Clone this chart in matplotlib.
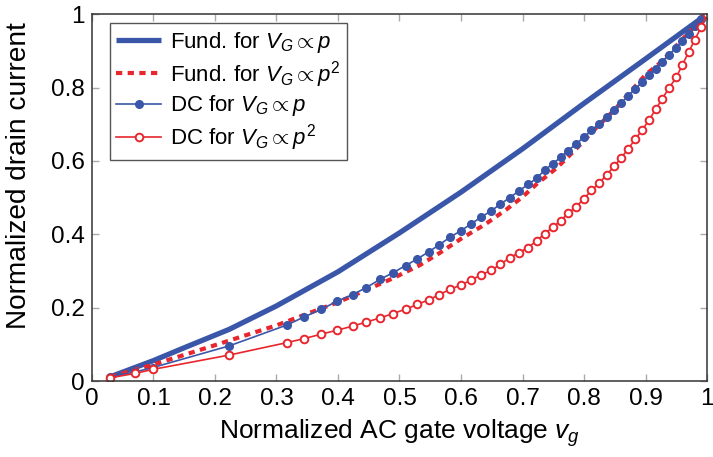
import numpy as np
import matplotlib
matplotlib.use("Agg")
import matplotlib.pyplot as plt

plt.rcParams['font.family'] = ['Liberation Sans', 'DejaVu Sans']
plt.rcParams['mathtext.fontset'] = 'custom'
plt.rcParams['mathtext.rm'] = 'Liberation Sans'
plt.rcParams['mathtext.it'] = 'Liberation Sans:italic'

# fundamental curves
xf = [0.03, 0.1, 0.15, 0.223, 0.3, 0.4, 0.5, 0.6, 0.7, 0.8, 0.9, 1.0]
fund_lin = [0.012, 0.056, 0.091, 0.141, 0.205, 0.298, 0.404, 0.515, 0.633, 0.757, 0.878, 1.0]

xq = [0.03, 0.1, 0.2, 0.3, 0.4, 0.489, 0.533, 0.566, 0.601, 0.639, 0.674, 0.7, 0.723, 0.755,
      0.785, 0.815, 0.85, 0.9, 0.926, 0.959, 1.0]
fund_sq = [0.012, 0.045, 0.098, 0.152, 0.215, 0.280, 0.316, 0.350, 0.389, 0.427, 0.468, 0.502,
           0.537, 0.580, 0.629, 0.682, 0.740, 0.835, 0.870, 0.930, 1.0]

# DC points
xd = [0.029, 0.07, 0.099, 0.223, 0.317, 0.345, 0.373, 0.399, 0.424, 0.446, 0.468, 0.489,
      0.510, 0.529, 0.548, 0.565, 0.582, 0.600, 0.616, 0.632, 0.649, 0.664, 0.679, 0.694,
      0.709, 0.723, 0.736, 0.749, 0.762, 0.774, 0.787, 0.800, 0.812, 0.825, 0.837, 0.849,
      0.860, 0.872, 0.883, 0.895, 0.906, 0.917, 0.927, 0.938, 0.950, 0.960, 0.970, 0.980,
      0.991, 1.0]
dc_lin = [0.012, 0.025, 0.037, 0.096, 0.153, 0.175, 0.196, 0.218, 0.236, 0.255, 0.277, 0.295,
          0.315, 0.333, 0.353, 0.372, 0.392, 0.410, 0.428, 0.446, 0.464, 0.482, 0.500, 0.518,
          0.536, 0.553, 0.575, 0.592, 0.610, 0.628, 0.646, 0.665, 0.683, 0.701, 0.720, 0.739,
          0.757, 0.778, 0.796, 0.815, 0.833, 0.851, 0.871, 0.889, 0.909, 0.927, 0.946, 0.967,
          0.987, 1.0]
dc_sq = [0.009, 0.021, 0.032, 0.071, 0.105, 0.116, 0.128, 0.139, 0.150, 0.161, 0.172, 0.184,
         0.196, 0.209, 0.222, 0.236, 0.250, 0.262, 0.275, 0.289, 0.302, 0.318, 0.336, 0.350,
         0.364, 0.382, 0.402, 0.419, 0.437, 0.457, 0.475, 0.497, 0.520, 0.540, 0.563, 0.585,
         0.608, 0.633, 0.659, 0.685, 0.712, 0.742, 0.769, 0.798, 0.828, 0.862, 0.896, 0.930,
         0.966, 1.0]

blue = '#3a56a8'
red = '#e8262d'

fig = plt.figure(figsize=(7.13, 4.57), dpi=100)
ax = fig.add_axes([0.129, 0.166, 0.8626, 0.803])

ax.plot(xf, fund_lin, color=blue, lw=3.8, solid_capstyle='butt',
        label=r'Fund. for $V_G \propto p$')
ax.plot(xq, fund_sq, color=red, lw=3.0, dashes=(1.5, 1.3),
        label=r'Fund. for $V_G \propto p^2$')
ax.plot(xd, dc_lin, color=blue, lw=1.2, marker='o', ms=5.5,
        label=r'DC for $V_G \propto p$')
ax.plot(xd, dc_sq, color=red, lw=1.2, marker='o', ms=5.5, mfc='white', mew=1.4,
        label=r'DC for $V_G \propto p^2$')

ax.set_xlim(0, 1)
ax.set_ylim(0, 1)
ax.set_xticks(np.arange(0, 1.01, 0.1))
ax.set_xticklabels(['0', '0.1', '0.2', '0.3', '0.4', '0.5', '0.6', '0.7', '0.8', '0.9', '1'])
ax.set_yticks(np.arange(0, 1.01, 0.2))
ax.set_yticklabels(['0', '0.2', '0.4', '0.6', '0.8', '1'])
ax.tick_params(direction='in', top=True, right=True, length=5, width=1,
               color='#aaaaaa', labelsize=17.5, pad=5)
for s in ax.spines.values():
    s.set_color('#333333')
    s.set_linewidth(1.1)

ax.set_xlabel(r'Normalized AC gate voltage $v_g$', fontsize=19, labelpad=5)
ax.set_ylabel('Normalized drain current', fontsize=20.2)
ax.yaxis.set_label_coords(-0.097, 0.561)

leg = ax.legend(loc='upper left', bbox_to_anchor=(0.029, 0.975), borderaxespad=0,
                fontsize=16, fancybox=False, framealpha=1, edgecolor='#555555',
                handlelength=2.0, handletextpad=0.4, labelspacing=0.17,
                borderpad=0.3)
leg.get_frame().set_linewidth(1.0)

fig.savefig('out.png', dpi=100)
